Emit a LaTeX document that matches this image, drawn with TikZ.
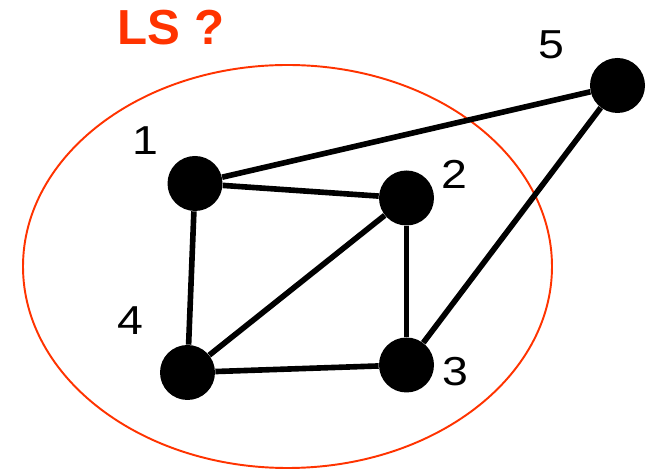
\documentclass[tikz,border=0pt]{standalone}
\usepackage{fontspec}
\setmainfont{Liberation Sans}
\newfontfamily\widefont[FakeStretch=1.15]{Liberation Sans}
\usepackage{xcolor}
\usetikzlibrary{positioning}
\definecolor{lsred}{HTML}{FF3300}

\begin{document}
\begin{tikzpicture}[
    vertex/.style={circle, fill=black, minimum size=1.1cm, inner sep=0pt},
    edge/.style={line width=3.2pt},
    numlabel/.style={font=\widefont\fontsize{23}{25}\selectfont}
]
\useasboundingbox (0,0) rectangle (12.98,9.44);

% Region
\draw[lsred, line width=1.1pt] (5.75,4.11) ellipse (5.29cm and 4.03cm);
\node[font=\fontsize{28}{30}\selectfont\bfseries, text=lsred] (ls) at (3.42,8.89) {LS ?};

% Vertices
\node[vertex] (v1) at (3.90,5.77) {};
\node[vertex] (v2) at (8.13,5.48) {};
\node[vertex] (v3) at (8.13,2.14) {};
\node[vertex] (v4) at (3.75,1.99) {};
\node[vertex] (v5) at (12.35,7.73) {};

% Numbers
\node[numlabel] (n1) at (2.90,6.63) {1};
\node[numlabel] (n2) at (9.09,5.95) {2};
\node[numlabel] (n3) at (9.10,2.00) {3};
\node[numlabel] (n4) at (2.60,3.03) {4};
\node[numlabel] (n5) at (11.03,8.55) {5};

% Edges
\draw[edge] (v1) -- (v5);
\draw[edge] (v1) -- (v2);
\draw[edge] (v1) -- (v4);
\draw[edge] (v2) -- (v4);
\draw[edge] (v2) -- (v3);
\draw[edge] (v4) -- (v3);
\draw[edge] (v3) -- (v5);
\end{tikzpicture}
\end{document}
